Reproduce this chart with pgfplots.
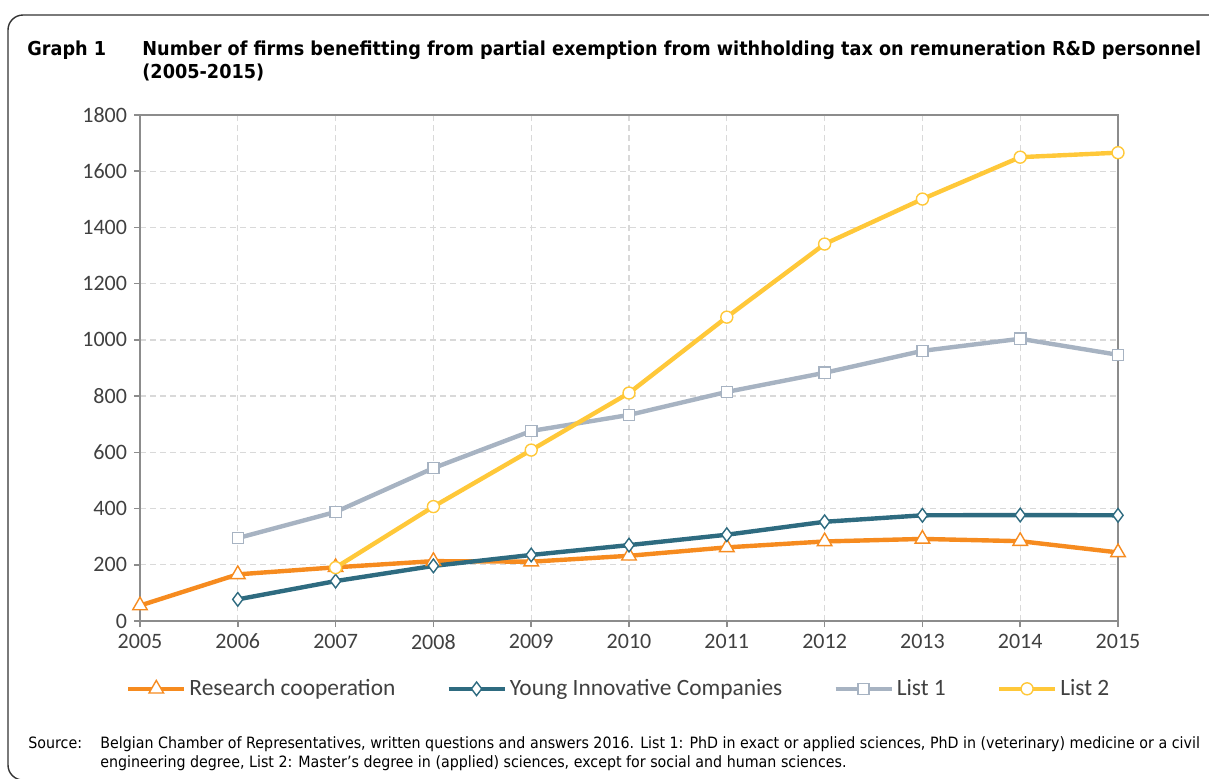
\documentclass[border=0pt]{standalone}
\usepackage{pgfplots}
\pgfplotsset{compat=1.18}
\usepackage{fontspec}
\setmainfont{Carlito}
\newfontfamily\tfont{DejaVu Sans}[FakeStretch=0.92]
\newfontfamily\sfont{DejaVu Sans}[FakeStretch=0.913]
\definecolor{rc}{HTML}{F68B1F}
\definecolor{yic}{HTML}{2E6B80}
\definecolor{lone}{HTML}{A7B3C2}
\definecolor{ltwo}{HTML}{FFC839}
\definecolor{axgray}{HTML}{8C8C8C}
\definecolor{gridgray}{HTML}{D9D9D9}
\definecolor{txt}{HTML}{404040}
\begin{document}
\begin{tikzpicture}
\useasboundingbox (0,0) rectangle (604.5pt,-389pt);
\begin{scope}
\clip (0,0) rectangle (604.5pt,-389pt);
\draw[black!80, line width=0.7pt, rounded corners=7.5pt] (4pt,-7.5pt) rectangle (620pt,-390pt);
\end{scope}
\node[anchor=base west, inner sep=0pt, font=\tfont\bfseries\fontsize{9.6}{11}\selectfont] at (13.5pt,-27.5pt) {Graph 1};
\node[anchor=base west, inner sep=0pt, font=\tfont\bfseries\fontsize{9.6}{11}\selectfont] at (71pt,-27.5pt) {Number of firms benefitting from partial exemption from withholding tax on remuneration R\&D personnel};
\node[anchor=base west, inner sep=0pt, font=\tfont\bfseries\fontsize{9.6}{11}\selectfont] at (71pt,-39pt) {(2005-2015)};
\node[anchor=base west, inner sep=0pt, font=\sfont\fontsize{7.8}{9}\selectfont] at (14pt,-374pt) {Source:};
\node[anchor=base west, inner sep=0pt, font=\sfont\fontsize{7.8}{9}\selectfont] at (50pt,-374pt) {Belgian Chamber of Representatives, written questions and answers 2016. List 1: PhD in exact or applied sciences, PhD in (veterinary) medicine or a civil};
\node[anchor=base west, inner sep=0pt, font=\sfont\fontsize{7.8}{9}\selectfont] at (50pt,-383.5pt) {engineering degree, List 2: Master’s degree in (applied) sciences, except for social and human sciences.};
\begin{axis}[
  at={(70pt,-310.5pt)}, anchor=south west,
  scale only axis, width=489pt, height=253pt,
  xmin=2005, xmax=2015, ymin=0, ymax=1800,
  xtick={2005,2006,...,2015}, ytick={0,200,...,1800},
  grid=major,
  major grid style={gridgray, line width=0.7pt, dash pattern=on 3pt off 2pt},
  axis line style={axgray, line width=1.2pt},
  tick style={axgray, line width=0.8pt},
  tick align=outside, major tick length=3pt,
  xtick pos=bottom, ytick pos=left,
  /pgf/number format/assume math mode=true,
  /pgf/number format/1000 sep={},
  tick label style={font=\fontsize{11}{13}\selectfont, text=txt},
  legend columns=4,
  legend style={draw=none, at={(0.49,-0.134)}, anchor=center,
    font=\fontsize{11.7}{13}\selectfont, text=txt,
    /tikz/every even column/.append style={column sep=24pt},
    nodes={inner sep=1.5pt}},
  legend image code/.code={\draw[mark repeat=2,mark phase=2] plot coordinates {(0pt,0pt)(14pt,0pt)(28pt,0pt)};},
  every axis plot/.append style={line width=2.2pt, mark options={solid, fill=white, line width=0.7pt}},
  clip=false,
]
\addplot[rc, mark=triangle*, mark size=4.2pt] coordinates {
(2005,55)(2006,166)(2007,191)(2008,213)(2009,211)(2010,232)(2011,262)(2012,283)(2013,292)(2014,284)(2015,244)};
\addlegendentry{Research cooperation}
\addplot[yic, mark=diamond*, mark size=3.4pt] coordinates {
(2006,77)(2007,142)(2008,196)(2009,235)(2010,270)(2011,307)(2012,353)(2013,376)(2014,377)(2015,376)};
\addlegendentry{Young Innovative Companies}
\addplot[lone, mark=square*, mark size=2.8pt] coordinates {
(2006,295)(2007,388)(2008,544)(2009,676)(2010,733)(2011,815)(2012,883)(2013,961)(2014,1004)(2015,947)};
\addlegendentry{List 1}
\addplot[ltwo, mark=*, mark size=3pt] coordinates {
(2007,190)(2008,407)(2009,608)(2010,811)(2011,1081)(2012,1341)(2013,1501)(2014,1650)(2015,1666)};
\addlegendentry{List 2}
\end{axis}
\end{tikzpicture}
\end{document}
